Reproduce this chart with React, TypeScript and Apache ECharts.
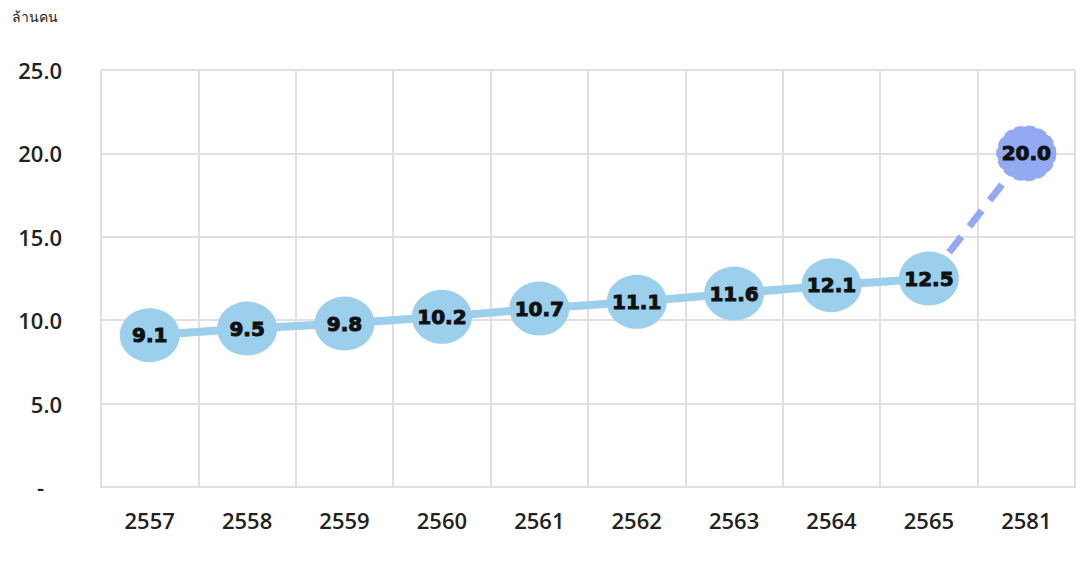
import React, { useEffect, useRef } from "react";
import * as echarts from "echarts";

const categories = ["2557", "2558", "2559", "2560", "2561", "2562", "2563", "2564", "2565", "2581"];
const actualValues: (number | null)[] = [9.1, 9.5, 9.8, 10.2, 10.7, 11.1, 11.6, 12.1, 12.5, null];
const targetValues: (number | null)[] = [null, null, null, null, null, null, null, null, 12.5, 20.0];
const unitLabel = "ล้านคน";

export default function App() {
  const ref = useRef<HTMLDivElement>(null);
  useEffect(() => {
    if (!ref.current) return;
    const chart = echarts.init(ref.current, undefined, { renderer: "svg" });
    const axisFont = "'Open Sans', 'Noto Sans', sans-serif";
    const markLabel = {
      show: true,
      position: "inside",
      color: "#111",
      fontSize: 20,
      fontWeight: "bold",
      fontFamily: "'DejaVu Sans', sans-serif",
      textBorderColor: "#111",
      textBorderWidth: 1,
    };
    chart.setOption({
      animation: false,
      backgroundColor: "#ffffff",
      graphic: [
        {
          type: "text",
          left: 12,
          top: 9,
          style: { text: unitLabel, fontSize: 14, fill: "#222", fontFamily: "'Noto Sans', sans-serif" },
        },
      ],
      grid: { left: 101, right: 5, top: 70, bottom: 75, containLabel: false },
      xAxis: {
        type: "category",
        data: categories,
        boundaryGap: true,
        axisLine: { show: true, lineStyle: { color: "#e0e0e0", width: 2 } },
        axisTick: { show: false },
        splitLine: { show: true, lineStyle: { color: "#e0e0e0", width: 2 } },
        axisLabel: { color: "#222", fontSize: 22, fontFamily: axisFont, fontWeight: 600, margin: 22 },
      },
      yAxis: {
        type: "value",
        min: 0,
        max: 25,
        interval: 5,
        axisLine: { show: false },
        axisTick: { show: false },
        splitLine: { show: true, lineStyle: { color: "#e0e0e0", width: 2 } },
        axisLabel: {
          color: "#222",
          fontSize: 22,
          fontFamily: axisFont,
          fontWeight: 600,
          margin: 39,
          formatter: (v: number) => (v === 0 ? "{d|-}" : v.toFixed(1)),
          rich: { d: { fontSize: 22, color: "#222", fontWeight: 600, fontFamily: axisFont, padding: [0, 18, 0, 0] } },
        },
      },
      series: [
        {
          type: "line",
          data: actualValues,
          symbol: "circle",
          symbolSize: [60, 54],
          lineStyle: { color: "#9BCFEC", width: 8 },
          itemStyle: { color: "#9BCFEC" },
          label: { ...markLabel, formatter: (p: any) => Number(p.value).toFixed(1) },
          z: 3,
        },
        {
          type: "line",
          data: targetValues,
          symbol: "circle",
          symbolSize: (v: any, p: any) => (p.dataIndex === 9 ? [58, 54] : 0),
          lineStyle: { color: "#93A9F2", width: 7, type: [20, 13] },
          itemStyle: { color: "#93A9F2", borderColor: "#93A9F2", borderType: "dashed", borderWidth: 2 },
          label: { ...markLabel, formatter: (p: any) => (p.dataIndex === 9 ? Number(p.value).toFixed(1) : "") },
          z: 2,
        },
      ],
    });
    return () => chart.dispose();
  }, []);
  return (
    <div
      ref={ref}
      style={{ position: "fixed", left: 0, top: 0, width: 1080, height: 562 }}
    />
  );
}
